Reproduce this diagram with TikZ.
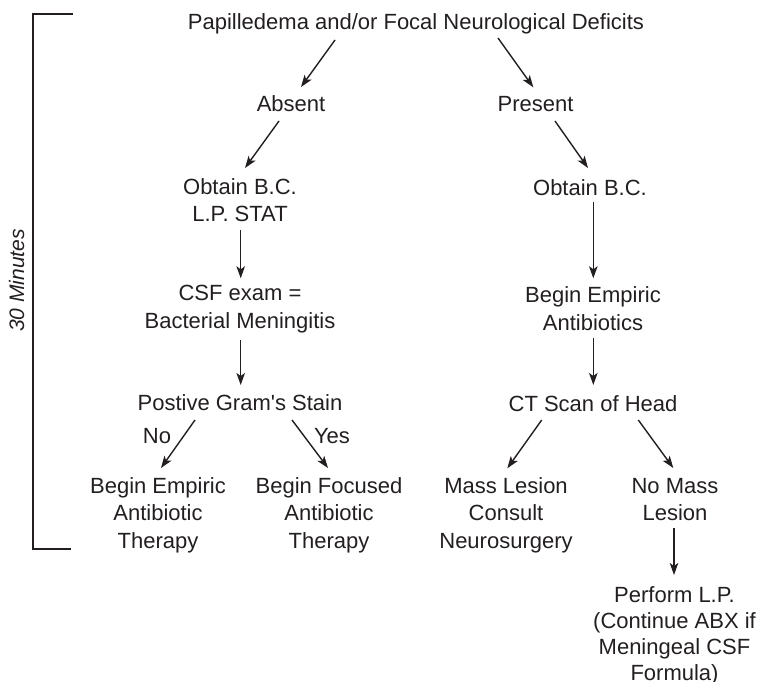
\documentclass[tikz,border=0pt]{standalone}
\usepackage{fontspec}
\setmainfont{Liberation Sans}[Ligatures=TeXOff]
\usetikzlibrary{arrows.meta}
\definecolor{ink}{HTML}{231F20}
\begin{document}
\begin{tikzpicture}[x=1pt,y=-1pt,
  txt/.style={anchor=base,align=center,inner sep=0pt,text=ink,
    font=\fontsize{22}{27.5}\selectfont},
  tight/.style={txt,font=\fontsize{22}{26}\selectfont},
  arr/.style={draw=ink,line width=1.4pt,
    -{Stealth[length=12pt,width=8.5pt,inset=3pt]}},
  bracket/.style={draw=ink,line width=1.8pt}]
\useasboundingbox (0,0) rectangle (760,682);

% time bracket on the left
\coordinate (bt) at (73,14);
\coordinate (bb) at (71,549);
\draw[bracket] (bt) -- (33,14) -- (33,549) -- (bb);
\node[txt,rotate=90,font=\fontsize{21}{25}\selectfont\itshape] (mins) at (24,280.5) {30 Minutes};

% decision tree (multi-line nodes sit on the baseline of their last line)
\node[txt] (title) at (416,29.5) {Papilledema and/or Focal Neurological Deficits};
\node[txt] (absent) at (291,111.7) {Absent};
\node[txt] (present) at (535.5,111.7) {Present};
\node[txt] (obtL) at (240,221.7) {Obtain B.C.\\L.P. STAT};
\node[txt] (obtR) at (590,195) {Obtain B.C.};
\node[txt] (csf) at (240,328.3) {CSF exam =\\Bacterial Meningitis};
\node[txt] (empR) at (593,330) {Begin Empiric\\Antibiotics};
\node[txt] (gram) at (240,410.7) {Postive Gram's Stain};
\node[txt] (ct) at (593,411.5) {CT Scan of Head};
\node[txt] (no) at (157,443.3) {No};
\node[txt] (yes) at (332,443.3) {Yes};
\node[txt] (empL) at (158,548.3) {Begin Empiric\\Antibiotic\\Therapy};
\node[txt] (focL) at (329,548.3) {Begin Focused\\Antibiotic\\Therapy};
\node[txt] (mass) at (506,548.3) {Mass Lesion\\Consult\\Neurosurgery};
\node[txt] (nomass) at (675,520.5) {No Mass\\Lesion};
\node[tight] (lp) at (674.5,680) {Perform L.P.\\(Continue ABX if\\Meningeal CSF\\Formula)};

% connectors
\draw[arr] ([shift={(-81,10.5)}]title.base) -- ([shift={(10,-24.7)}]absent.base);
\draw[arr] ([shift={(82,8.5)}]title.base) -- ([shift={(-2.2,-24.4)}]present.base);
\draw[arr] ([shift={(-12,9.3)}]absent.base) -- ([shift={(5,-53.7)}]obtL.base);
\draw[arr] ([shift={(19.5,9.3)}]present.base) -- ([shift={(-2,-27)}]obtR.base);
\draw[arr] ([shift={(0.7,8.3)}]obtL.base) -- ([shift={(0.7,-50)}]csf.base);
\draw[arr] ([shift={(3.3,7.3)}]obtR.base) -- ([shift={(0.3,-51.7)}]empR.base);
\draw[arr] ([shift={(0.7,11.7)}]csf.base) -- ([shift={(0.7,-25.7)}]gram.base);
\draw[arr] ([shift={(0.3,8)}]empR.base) -- ([shift={(0.3,-26.5)}]ct.base);
\draw[arr] ([shift={(-45,9.3)}]gram.base) -- ([shift={(3,-80.3)}]empL.base);
\draw[arr] ([shift={(52,9.3)}]gram.base) -- ([shift={(-1,-80.3)}]focL.base);
\draw[arr] ([shift={(-51.3,8.5)}]ct.base) -- ([shift={(1.3,-80)}]mass.base);
\draw[arr] ([shift={(45.3,8.5)}]ct.base) -- ([shift={(-1.7,-52.5)}]nomass.base);
\draw[arr] ([shift={(-1,7.5)}]nomass.base) -- ([shift={(-0.5,-105)}]lp.base);
\end{tikzpicture}
\end{document}
